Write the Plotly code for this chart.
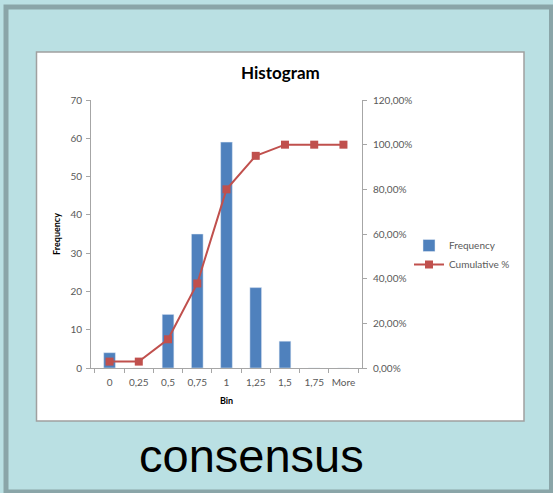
import plotly.graph_objects as go

bins = ["0", "0,25", "0,5", "0,75", "1", "1,25", "1,5", "1,75", "More"]
frequency = [4, 0, 14, 35, 59, 21, 7, 0, 0]
cumulative = [2.86, 2.86, 12.86, 37.86, 80.0, 95.0, 100.0, 100.0, 100.0]
left_ticks = [0, 10, 20, 30, 40, 50, 60, 70]
right_ticks = [0, 20, 40, 60, 80, 100, 120]
right_labels = ["0,00%", "20,00%", "40,00%", "60,00%", "80,00%", "100,00%", "120,00%"]

W, H = 553, 493
def px(x):
    return x / W
def py(y):
    return 1 - y / H

font = "Lato, Open Sans, sans-serif"
grey = "#595959"
axis_col = "#a6a6a6"

fig = go.Figure()
fig.add_trace(go.Bar(x=bins, y=frequency, name="Frequency", marker_color="#4f81bd",
                     yaxis="y"))
fig.add_trace(go.Scatter(x=bins, y=cumulative, name="Cumulative %", mode="lines+markers",
                         line=dict(color="#c0504d", width=2),
                         marker=dict(symbol="square", size=8, color="#c0504d"),
                         yaxis="y2"))

shapes = [
    dict(type="rect", xref="paper", yref="paper", x0=px(6), x1=px(551.5), y0=py(492), y1=py(7),
         fillcolor="#bae0e3", line=dict(color="#8aa5a8", width=5), layer="below"),
    dict(type="rect", xref="paper", yref="paper", x0=px(36.5), x1=px(524), y0=py(421), y1=py(52),
         fillcolor="#ffffff", line=dict(color="#a0a0a0", width=1.5), layer="below"),
]

fig.update_layout(
    width=W, height=H,
    autosize=False,
    margin=dict(l=0, r=0, t=0, b=0, pad=0, autoexpand=False),
    paper_bgcolor="#bae0e3",
    plot_bgcolor="rgba(0,0,0,0)",
    separators=",.",
    shapes=shapes,
    bargap=0.6,
    font=dict(family=font, color=grey, size=10),
    showlegend=True,
    legend=dict(x=px(409), y=py(231), xanchor="left", yanchor="top",
                bgcolor="rgba(0,0,0,0)", font=dict(size=10, color=grey),
                itemwidth=30),
    xaxis=dict(domain=[px(91), px(362)], type="category", showline=True, linecolor=axis_col,
               ticks="outside", tickson="boundaries", ticklen=4, tickcolor=axis_col,
               showgrid=False, zeroline=False, tickfont=dict(size=10, color=grey),
               tickangle=0, automargin=False, ticklabelstandoff=5,
               title=dict(text="<b>Bin</b>", font=dict(size=9, color="#000000"), standoff=10),
               anchor="y"),
    yaxis=dict(domain=[py(368), py(100)], range=[0, 70], tickvals=left_ticks,
               showline=True, linecolor=axis_col, ticks="outside", ticklen=4, tickcolor=axis_col,
               showgrid=False, zeroline=False, tickfont=dict(size=10, color=grey),
               automargin=False, ticklabelstandoff=2,
               title=dict(text="<b>Frequency</b>", font=dict(size=9, color="#000000"), standoff=8)),
    yaxis2=dict(overlaying="y", side="right", range=[0, 120], tickvals=right_ticks,
                ticktext=right_labels, showline=True, linecolor=axis_col, ticks="outside",
                ticklen=4, tickcolor=axis_col, showgrid=False, zeroline=False,
                automargin=False, ticklabelstandoff=4,
                tickfont=dict(size=10, color=grey), anchor="x"),
    annotations=[
        dict(text="<b>Histogram</b>", xref="paper", yref="paper", x=px(280), y=py(73),
             xanchor="center", yanchor="middle",
             showarrow=False, font=dict(size=17, color="#000000", family=font)),
        dict(text="consensus", xref="paper", yref="paper", x=px(251), y=py(455),
             xanchor="center", yanchor="middle",
             showarrow=False, font=dict(size=47, color="#000000",
                                        family="Liberation Sans, Arial, sans-serif")),
    ],
)

fig.write_html("out.html", config={"displayModeBar": False},
               post_script="document.body.style.margin='0px';document.body.style.overflow='hidden';")
